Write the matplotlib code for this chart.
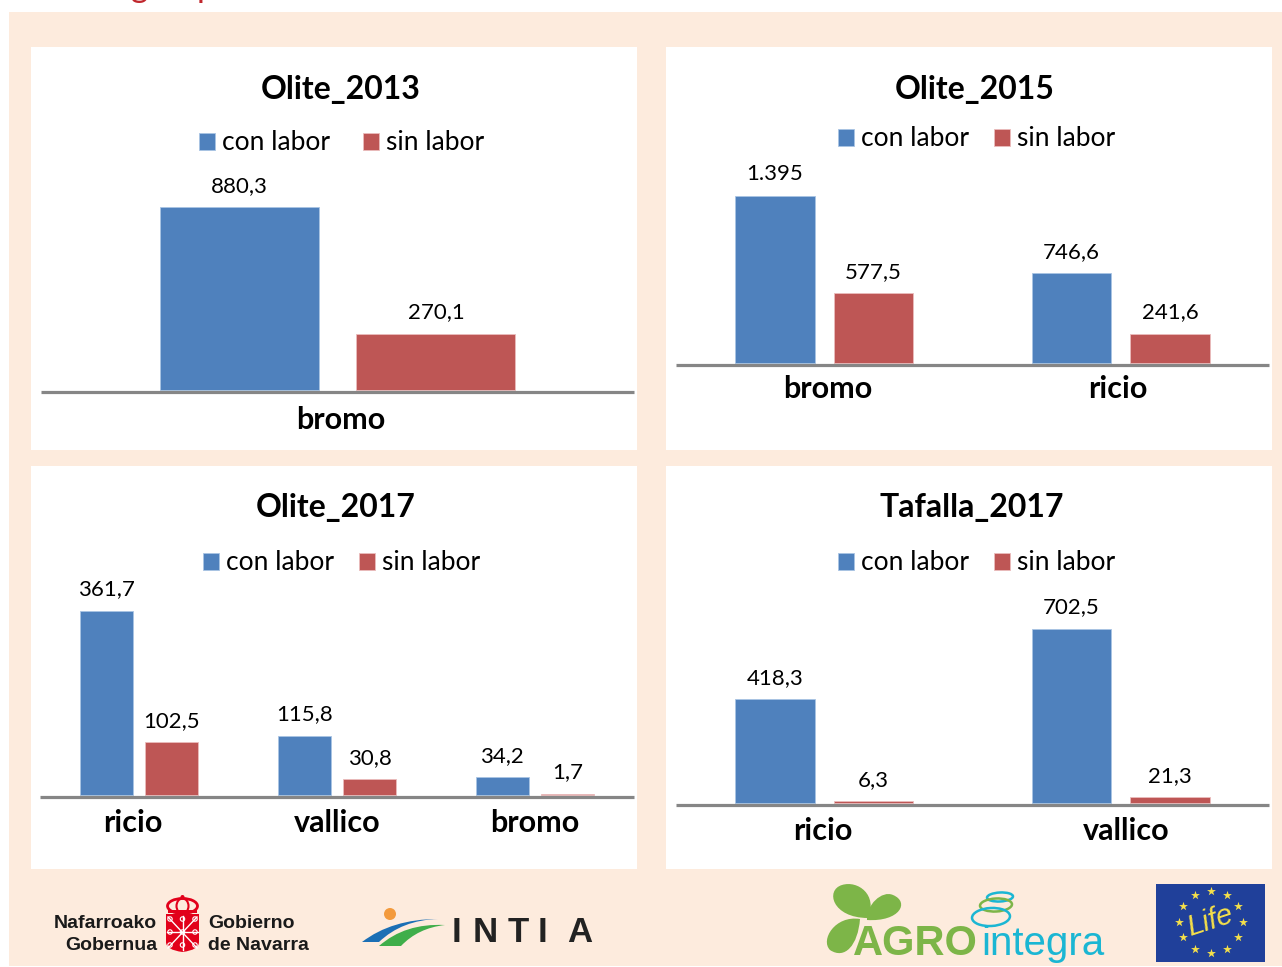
import numpy as np
import matplotlib
matplotlib.use("Agg")
import matplotlib.pyplot as plt
from matplotlib.patches import Rectangle, Ellipse, PathPatch, Circle
from matplotlib.path import Path
from matplotlib.transforms import ScaledTranslation

plt.rcParams['font.family'] = ['Lato', 'DejaVu Sans']

W, H = 1282, 967
BLUE = '#4F81BD'
RED = '#BE5655'
GREY = '#868686'
PEACH = '#FDEBDD'

# data
titles = ['Olite_2013', 'Olite_2015', 'Olite_2017', 'Tafalla_2017']
cats_2013 = ['bromo']
con_2013 = [880.3]
sin_2013 = [270.1]
cats_2015 = ['bromo', 'ricio']
con_2015 = [1395, 746.6]
sin_2015 = [577.5, 241.6]
cats_o2017 = ['ricio', 'vallico', 'bromo']
con_o2017 = [361.7, 115.8, 34.2]
sin_o2017 = [102.5, 30.8, 1.7]
cats_t2017 = ['ricio', 'vallico']
con_t2017 = [418.3, 702.5]
sin_t2017 = [6.3, 21.3]
series_names = ['con labor', 'sin labor']


def fmt(v):
    if v >= 1000:
        return f'{v:,.0f}'.replace(',', '.')
    return f'{v:.1f}'.replace('.', ',')


fig = plt.figure(figsize=(W / 100, H / 100), dpi=100, facecolor='white')

# page layer in pixel coordinates, for the background and the logos
bg = fig.add_axes([0, 0, 1, 1], zorder=0)
bg.set_xlim(0, W)
bg.set_ylim(H, 0)
bg.axis('off')
bg.add_patch(Rectangle((9, 12), W - 9, 954, color=PEACH, lw=0))
for x0, y0 in [(31, 47), (666, 47), (31, 466), (666, 466)]:
    bg.add_patch(Rectangle((x0, y0), 606, 403, color='white', lw=0))

# descenders of the cut off heading
bg.text(140, -3, 'g', color='#C0272D', fontsize=24, ha='center', va='baseline')
bg.text(206, -3, 'p', color='#C0272D', fontsize=24, ha='center', va='baseline')


def chart(cats, con, sin, left, right, line_y, top, scale, title, title_xy, legend_xy, shifts, pad, colsp):
    ax = fig.add_axes([left / W, 1 - line_y / H, (right - left) / W, (line_y - top) / H], zorder=2)
    ax.patch.set_alpha(0)
    ax.set_xlim(-0.5, len(cats) - 0.5)
    ax.set_ylim(-2.5 / scale, (line_y - top - 2.5) / scale)
    x = np.arange(len(cats))
    b1 = ax.bar(x - 0.166, con, 0.268, color=BLUE, edgecolor='#A9C4E4', lw=0.6, label=series_names[0])
    b2 = ax.bar(x + 0.166, sin, 0.268, color=RED, edgecolor='#EBBDBD', lw=0.6, label=series_names[1])
    ax.bar_label(b1, labels=[fmt(v) for v in con], padding=8, fontsize=16)
    ax.bar_label(b2, labels=[fmt(v) for v in sin], padding=8, fontsize=16)
    for s in ['top', 'left', 'right']:
        ax.spines[s].set_visible(False)
    ax.spines['bottom'].set_color(GREY)
    ax.spines['bottom'].set_linewidth(2.3)
    ax.spines['bottom'].set_capstyle('butt')
    ax.set_yticks([])
    ax.set_xticks(x, cats, fontsize=22, fontweight='bold')
    ax.tick_params(axis='x', length=0, pad=pad)
    for lab, dx in zip(ax.get_xticklabels(), shifts):
        lab.set_transform(lab.get_transform() + ScaledTranslation(dx / 100, 0, fig.dpi_scale_trans))
    ax.legend(loc='center', bbox_to_anchor=(legend_xy[0] / W, 1 - legend_xy[1] / H),
              bbox_transform=fig.transFigure, ncols=2, frameon=False, fontsize=19,
              handlelength=0.61, handleheight=0.61, handletextpad=0.26, columnspacing=colsp,
              borderpad=0, borderaxespad=0)
    bg.text(title_xy[0], title_xy[1], title, fontsize=23, fontweight='bold', ha='center', va='center')
    return ax


chart(cats_2013, con_2013, sin_2013, 41, 634, 392, 170, 182 / 880.3, titles[0], (341, 89), (341.5, 143), [3.5], 10, 1.25)
chart(cats_2015, con_2015, sin_2015, 676, 1269, 365, 160, 167 / 1395, titles[1], (975, 89), (976.5, 139), [4, -3], 7, 0.98)
chart(cats_o2017, con_o2017, sin_o2017, 40, 634, 797, 580, 184 / 361.7, titles[2], (336, 508), (341.5, 563), [-6, 0, 0], 8.5, 0.98)
chart(cats_t2017, con_t2017, sin_t2017, 676, 1269, 805, 590, 174 / 702.5, titles[3], (972, 508), (976.5, 563), [-1, 5], 8.5, 0.98)

# Gobierno de Navarra logo
sans = 'Liberation Sans'
for txt, x, y, ha in [('Nafarroako', 157, 924, 'right'), ('Gobernua', 157, 946, 'right'),
                      ('Gobierno', 208, 924, 'left'), ('de Navarra', 208, 946, 'left')]:
    bg.text(x, y, txt, family=sans, fontsize=14, fontweight='bold', ha=ha, va='center', color='#1a1a1a')
NAV = '#E2001A'
shield = Path([(166, 914), (199, 914), (199, 942), (199, 950), (182.5, 952), (166, 950), (166, 942), (166, 914)],
              [Path.MOVETO, Path.LINETO, Path.LINETO, Path.CURVE3, Path.CURVE3, Path.CURVE3, Path.CURVE3, Path.CLOSEPOLY])
bg.add_patch(PathPatch(shield, fc=NAV, ec='none'))
for xs, ys in [([168, 197], [917, 948]), ([197, 168], [917, 948]), ([182.5, 182.5], [916, 950]), ([167, 198], [932, 932])]:
    bg.plot(xs, ys, color='white', lw=1.0)
for cx, cy in [(170, 919), (182.5, 919), (195, 919), (170, 932), (182.5, 932), (195, 932), (170, 945), (182.5, 945), (195, 945)]:
    bg.add_patch(Circle((cx, cy), 2.2, fc=NAV, ec='white', lw=0.8))
bg.add_patch(Ellipse((182.5, 906), 30, 15, fc='none', ec=NAV, lw=2))
bg.add_patch(Ellipse((182.5, 906), 12, 15, fc='none', ec=NAV, lw=1.5))
bg.add_patch(Rectangle((168, 910), 29, 3, color=NAV, lw=0))
bg.add_patch(Circle((182.5, 897), 2, color=NAV, lw=0))

# INTIA logo
bg.add_patch(Circle((390, 914), 6, color='#F39A3C', lw=0))
curve = [Path.MOVETO, Path.CURVE3, Path.CURVE3, Path.CURVE3, Path.CURVE3, Path.CLOSEPOLY]
bg.add_patch(PathPatch(Path([(362, 942), (392, 919), (438, 919), (402, 920), (379, 942), (362, 942)], curve),
                       fc='#1B6FB5', ec='none'))
bg.add_patch(PathPatch(Path([(379, 946), (405, 923), (445, 925), (418, 928), (401, 946), (379, 946)], curve),
                       fc='#3FAE4A', ec='none'))
for letter, x in zip('INTIA', [457, 485, 518, 542, 580]):
    bg.text(x, 932, letter, family=sans, fontsize=25, fontweight='bold', ha='center', va='center', color='#222222')

# AGROintegra logo
LEAF = '#7DB548'
leaf_codes = [Path.MOVETO, Path.CURVE4, Path.CURVE4, Path.CURVE4, Path.CURVE4, Path.CURVE4, Path.CURVE4, Path.CLOSEPOLY]
bg.add_patch(PathPatch(Path([(868, 918), (832, 918), (825, 890), (842, 885), (858, 880), (878, 895), (868, 918), (868, 918)],
                            leaf_codes), fc=LEAF, ec='none'))
bg.add_patch(PathPatch(Path([(867, 920), (866, 905), (882, 890), (893, 895), (910, 902), (900, 922), (867, 920), (867, 920)],
                            leaf_codes), fc=LEAF, ec='none'))
bg.add_patch(PathPatch(Path([(860, 919), (835, 915), (820, 940), (830, 950), (845, 960), (858, 945), (860, 919), (860, 919)],
                            leaf_codes), fc=LEAF, ec='none'))
bg.text(853, 955, 'AGRO', family=sans, fontsize=30, fontweight='bold', color=LEAF, ha='left', va='baseline')
bg.text(981, 955, 'integra', family=sans, fontsize=29, color='#1BB6D3', ha='left', va='baseline')
for (cx, cy), w, h, col in [((1000, 897), 26, 9, '#1BB6D3'), ((996, 905), 32, 13, LEAF), ((991, 917), 38, 18, '#1BB6D3')]:
    bg.add_patch(Ellipse((cx, cy), w, h, angle=-3, fc='none', ec=col, lw=1.8))

# Life flag
bg.add_patch(Rectangle((1156, 884), 109, 78, color='#20409A', lw=0))
ang = np.deg2rad(np.arange(0, 360, 30))
bg.scatter(1210.7 + 32 * np.cos(ang), 921.7 + 31 * np.sin(ang), marker='*', s=45, color='#F5E04A', lw=0)
bg.text(1210, 921, 'Life', family=sans, style='italic', fontsize=21, color='#F5E04A', ha='center', va='center', rotation=18)

fig.savefig('out.png', dpi=100)
